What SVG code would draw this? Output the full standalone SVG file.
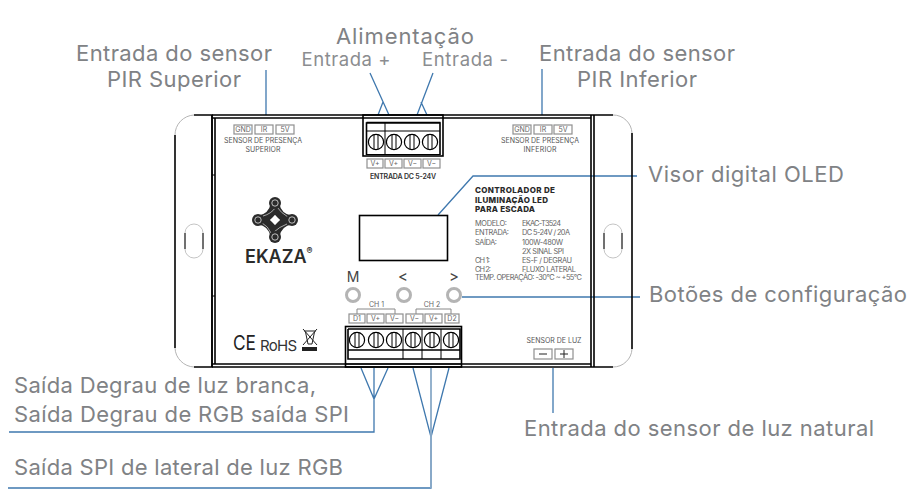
<svg xmlns="http://www.w3.org/2000/svg" width="917" height="497" viewBox="0 0 917 497">
<style>
text{font-family:"Inter","Open Sans","Liberation Sans",sans-serif}
.lab{font-size:22px;fill:#808285}
.sub{font-size:18.500px;fill:#8b8d90}
.tiny{font-size:7px;fill:#555}
.spec{font-size:7.4px;fill:#666}
.bold{font-size:8px;font-weight:800;fill:#2a2a2a}
.pin{font-size:7px;fill:#666;text-anchor:middle}
.k{fill:none;stroke:#000;stroke-width:1.6}
.t{fill:none;stroke:#000;stroke-width:1}
.g{fill:none;stroke:#b5b5b5;stroke-width:1}
.pb{fill:#fff;stroke:#8f8f8f;stroke-width:1.2}
.c{fill:none;stroke:#3f78ae;stroke-width:1.3}
.btn{fill:#fff;stroke:#b4b4b4;stroke-width:3}
.hole{fill:none;stroke:#aaa;stroke-width:.7}
.band{fill:none;stroke:#2b2b2b;stroke-width:8.500;stroke-linecap:round;stroke-linejoin:round}
</style>
<defs>
<g id="screw"><circle r="7.6" fill="#fff" stroke="#000" stroke-width="1.2"/><path d="M-2-7.4V7.4M2-7.4V7.4" stroke="#000" stroke-width="1"/></g>
<g id="lobe"><circle r="6" fill="#2b2b2b"/><circle r="3.200" fill="#2b2b2b" stroke="#fff" stroke-width=".7"/></g>
</defs>
<g id="connectors">
<path class="c" d="M266 70V115M542 69V115"/>
<path class="c" d="M370 73L389 115M383 102L378 115M433 73L417 115M421 102L427 115"/>
<path class="c" d="M438 215L473 176H637"/>
<path class="c" d="M462 297H640"/>
<path class="c" d="M553 368V413"/>
<path class="c" d="M9 432H374V368M361 368L374 399L388 368"/>
<path class="c" d="M8 488H431V437L413 368M431 437L449 368"/>
<path d="M431 368V488" fill="none" stroke="#8aaac8" stroke-width="1.800"/>
</g>
<g id="enclosure">
<path d="M194 115H212V367H194" fill="none" stroke="#000" stroke-width="1.5"/>
<path d="M175 135V348" class="k"/>
<path d="M175 135A20 20 0 0 1 194 115M175 348A20 20 0 0 0 194 367" class="g"/>
<path d="M594 115H613M594 367H613M632 133V349" class="k"/>
<path d="M613 115A19 19 0 0 1 632 133M632 349A19 19 0 0 1 613 367" class="g"/>
<path class="k" d="M212 115H594M212 118H591M212 364H591M212 367H594M212 115V367M215 118V364M591 115V367M594 115V367"/>
<path class="t" d="M212 175H215M212 296H215"/>
<rect x="185" y="224" width="18" height="34" rx="9" fill="#fff" class="hole"/>
<path class="t" d="M185 233V249M203 233V249"/>
<rect x="604" y="224" width="18" height="34" rx="9" fill="#fff" class="hole"/>
<path class="t" d="M604 233V249M622 233V249"/>
</g>
<g id="sensor-superior">
<g class="pb"><rect x="234" y="125" width="18" height="9"/><rect x="255" y="125" width="18" height="9"/><rect x="276" y="125" width="18" height="9"/></g>
<text class="pin" x="243" y="132">GND</text><text class="pin" x="264" y="132">IR</text><text class="pin" x="285" y="132">5V</text>
<text class="tiny" x="263" y="143" text-anchor="middle" textLength="78">SENSOR DE PRESENÇA</text>
<text class="tiny" x="263" y="151.500" text-anchor="middle" textLength="35">SUPERIOR</text>
</g>
<g id="sensor-inferior">
<g class="pb"><rect x="513" y="125" width="18" height="9"/><rect x="534" y="125" width="18" height="9"/><rect x="554" y="125" width="18" height="9"/></g>
<text class="pin" x="522" y="132">GND</text><text class="pin" x="543" y="132">IR</text><text class="pin" x="563" y="132">5V</text>
<text class="tiny" x="540" y="143" text-anchor="middle" textLength="78">SENSOR DE PRESENÇA</text>
<text class="tiny" x="540" y="151.500" text-anchor="middle" textLength="33">INFERIOR</text>
</g>
<g id="terminal-entrada">
<rect x="363" y="115" width="80" height="41" fill="#fff" class="k"/>
<path class="k" d="M366.500 155V123H440V155M366.500 122.500H440.500"/>
<path class="t" d="M366.500 131H440M385 122V155M366.500 154.500H440"/>
<use href="#screw" x="376" y="142"/><use href="#screw" x="394" y="142"/><use href="#screw" x="412" y="142"/><use href="#screw" x="430" y="142"/>
<g class="pb"><rect x="367" y="159" width="16" height="9"/><rect x="385" y="159" width="17" height="9"/><rect x="404" y="159" width="17" height="9"/><rect x="423" y="159" width="17" height="9"/></g>
<text class="pin" x="375" y="166">V+</text><text class="pin" x="393.500" y="166">V+</text><text class="pin" x="412.500" y="166">V−</text><text class="pin" x="431.500" y="166">V−</text>
<text x="403" y="179" font-size="7" fill="#333" text-anchor="middle" font-weight="600" textLength="66">ENTRADA DC 5-24V</text>
</g>
<g id="logo">
<path class="band" d="M275 203Q277 218 292 220Q277 222 275 237Q273 222 258 220Q273 218 275 203Z"/>
<path d="M275 215L280 220L275 225L270 220Z" fill="#fff"/>
<path d="M277 207Q281 213 288 217M287 224Q279 227 274 232M271 233Q268 226 262 223M263 216Q271 214 276 207" fill="none" stroke="#fff" stroke-width=".6"/>
<use href="#lobe" x="275" y="203"/><use href="#lobe" x="292" y="220"/><use href="#lobe" x="258" y="220"/><use href="#lobe" x="275" y="237"/>
<text x="245" y="263" font-size="18" font-weight="600" fill="#2b2b2b">EKAZA<tspan font-size="9" font-weight="700" dy="-9">®</tspan></text>
</g>
<g id="display"><rect x="359.500" y="215.500" width="88" height="45" fill="#fff" class="k"/></g>
<g id="specs">
<text class="bold" x="475" y="193" textLength="80">CONTROLADOR DE</text>
<text class="bold" x="475" y="202.500" textLength="73">ILUMINAÇÃO LED</text>
<text class="bold" x="475" y="212" textLength="60">PARA ESCADA</text>
<g class="spec">
<text x="475" y="226" textLength="32">MODELO:</text><text x="522" y="226" textLength="39">EKAC-T3524</text>
<text x="475" y="235" textLength="34">ENTRADA:</text><text x="522" y="235" textLength="48">DC 5-24V / 20A</text>
<text x="475" y="245" textLength="22">SAÍDA:</text><text x="522" y="245" textLength="41">100W-480W</text>
<text x="522" y="254" textLength="42">2X SINAL SPI</text>
<text x="475" y="263" textLength="15">CH 1:</text><text x="522" y="263" textLength="50">ES-F / DEGRAU</text>
<text x="475" y="272" textLength="16">CH 2:</text><text x="522" y="272" textLength="54">FLUXO LATERAL</text>
<text x="475" y="280" textLength="107">TEMP. OPERAÇÃO: -30°C ~ +55°C</text>
</g>
</g>
<g id="buttons">
<text x="353" y="282" font-size="14" fill="#444" text-anchor="middle">M</text>
<text x="403" y="282" font-size="15" fill="#444" text-anchor="middle">&lt;</text>
<text x="454" y="282" font-size="15" fill="#444" text-anchor="middle">&gt;</text>
<circle class="btn" cx="353" cy="295" r="6.500"/><circle class="btn" cx="404" cy="295" r="6.500"/><circle class="btn" cx="454" cy="295" r="6.500"/>
</g>
<g id="terminal-saida">
<path d="M357 314V309H395V314M416 314V309H451V314" fill="none" stroke="#888" stroke-width="1"/>
<text class="pin" x="376.500" y="307">CH 1</text><text class="pin" x="432" y="307">CH 2</text>
<g class="pb"><rect x="349" y="314" width="16" height="9"/><rect x="367" y="314" width="17" height="9"/><rect x="386" y="314" width="17" height="9"/><rect x="406" y="314" width="17" height="9"/><rect x="425" y="314" width="17" height="9"/><rect x="445" y="314" width="14" height="9"/></g>
<text class="pin" x="357" y="321">D1</text><text class="pin" x="375.500" y="321">V+</text><text class="pin" x="394.500" y="321">V−</text><text class="pin" x="414.500" y="321">V−</text><text class="pin" x="433.500" y="321">V+</text><text class="pin" x="452" y="321">D2</text>
<rect x="345.500" y="326.500" width="116" height="40.500" fill="#fff" class="k"/>
<path class="k" d="M348 329V359H460V329H348M348 350H460"/>
<path class="t" d="M403 329V359M422 329V359M441 329V359M345 364H462"/>
<use href="#screw" x="357" y="340"/><use href="#screw" x="376" y="340"/><use href="#screw" x="394" y="340"/><use href="#screw" x="413" y="340"/><use href="#screw" x="432" y="340"/><use href="#screw" x="451" y="340"/>
</g>
<g id="certs">
<text x="233" y="350" font-size="20" fill="#222" font-family="Liberation Sans" textLength="23" lengthAdjust="spacingAndGlyphs">CE</text>
<text x="260" y="351" font-size="15" fill="#333" font-family="Liberation Sans" textLength="37">RoHS</text>
<path d="M304 331H316M305.500 332L308 344H312L314.500 332M303 329L317 345M317 329L303 345" fill="none" stroke="#222" stroke-width="1"/>
<rect x="302" y="347" width="15" height="4" fill="#222"/>
</g>
<g id="sensor-luz">
<text class="tiny" x="554" y="343" text-anchor="middle" textLength="55">SENSOR DE LUZ</text>
<g class="pb" stroke="#444"><rect x="534" y="349" width="18" height="10"/><rect x="555" y="349" width="18" height="10"/></g>
<path d="M539 354H547M560 354H568M564 350V358" stroke="#222" stroke-width="1"/>
</g>
<g id="labels">
<text class="lab" x="174" y="61" text-anchor="middle" textLength="196">Entrada do sensor</text>
<text class="lab" x="174" y="87" text-anchor="middle" textLength="134">PIR Superior</text>
<text class="lab" x="405" y="44" text-anchor="middle" textLength="138">Alimentação</text>
<text class="sub" x="346" y="66" text-anchor="middle" textLength="89">Entrada +</text>
<text class="sub" x="465" y="66" text-anchor="middle" textLength="86">Entrada -</text>
<text class="lab" x="637" y="61" text-anchor="middle" textLength="196">Entrada do sensor</text>
<text class="lab" x="637" y="87" text-anchor="middle" textLength="120">PIR Inferior</text>
<text class="lab" x="648" y="182" textLength="196">Visor digital OLED</text>
<text class="lab" x="649" y="302" textLength="258">Botões de configuração</text>
<text class="lab" x="524" y="436" textLength="350">Entrada do sensor de luz natural</text>
<text class="lab" x="14" y="393" textLength="302">Saída Degrau de luz branca,</text>
<text class="lab" x="14" y="422" textLength="335">Saída Degrau de RGB saída SPI</text>
<text class="lab" x="14" y="475" textLength="329">Saída SPI de lateral de luz RGB</text>
</g>
</svg>
